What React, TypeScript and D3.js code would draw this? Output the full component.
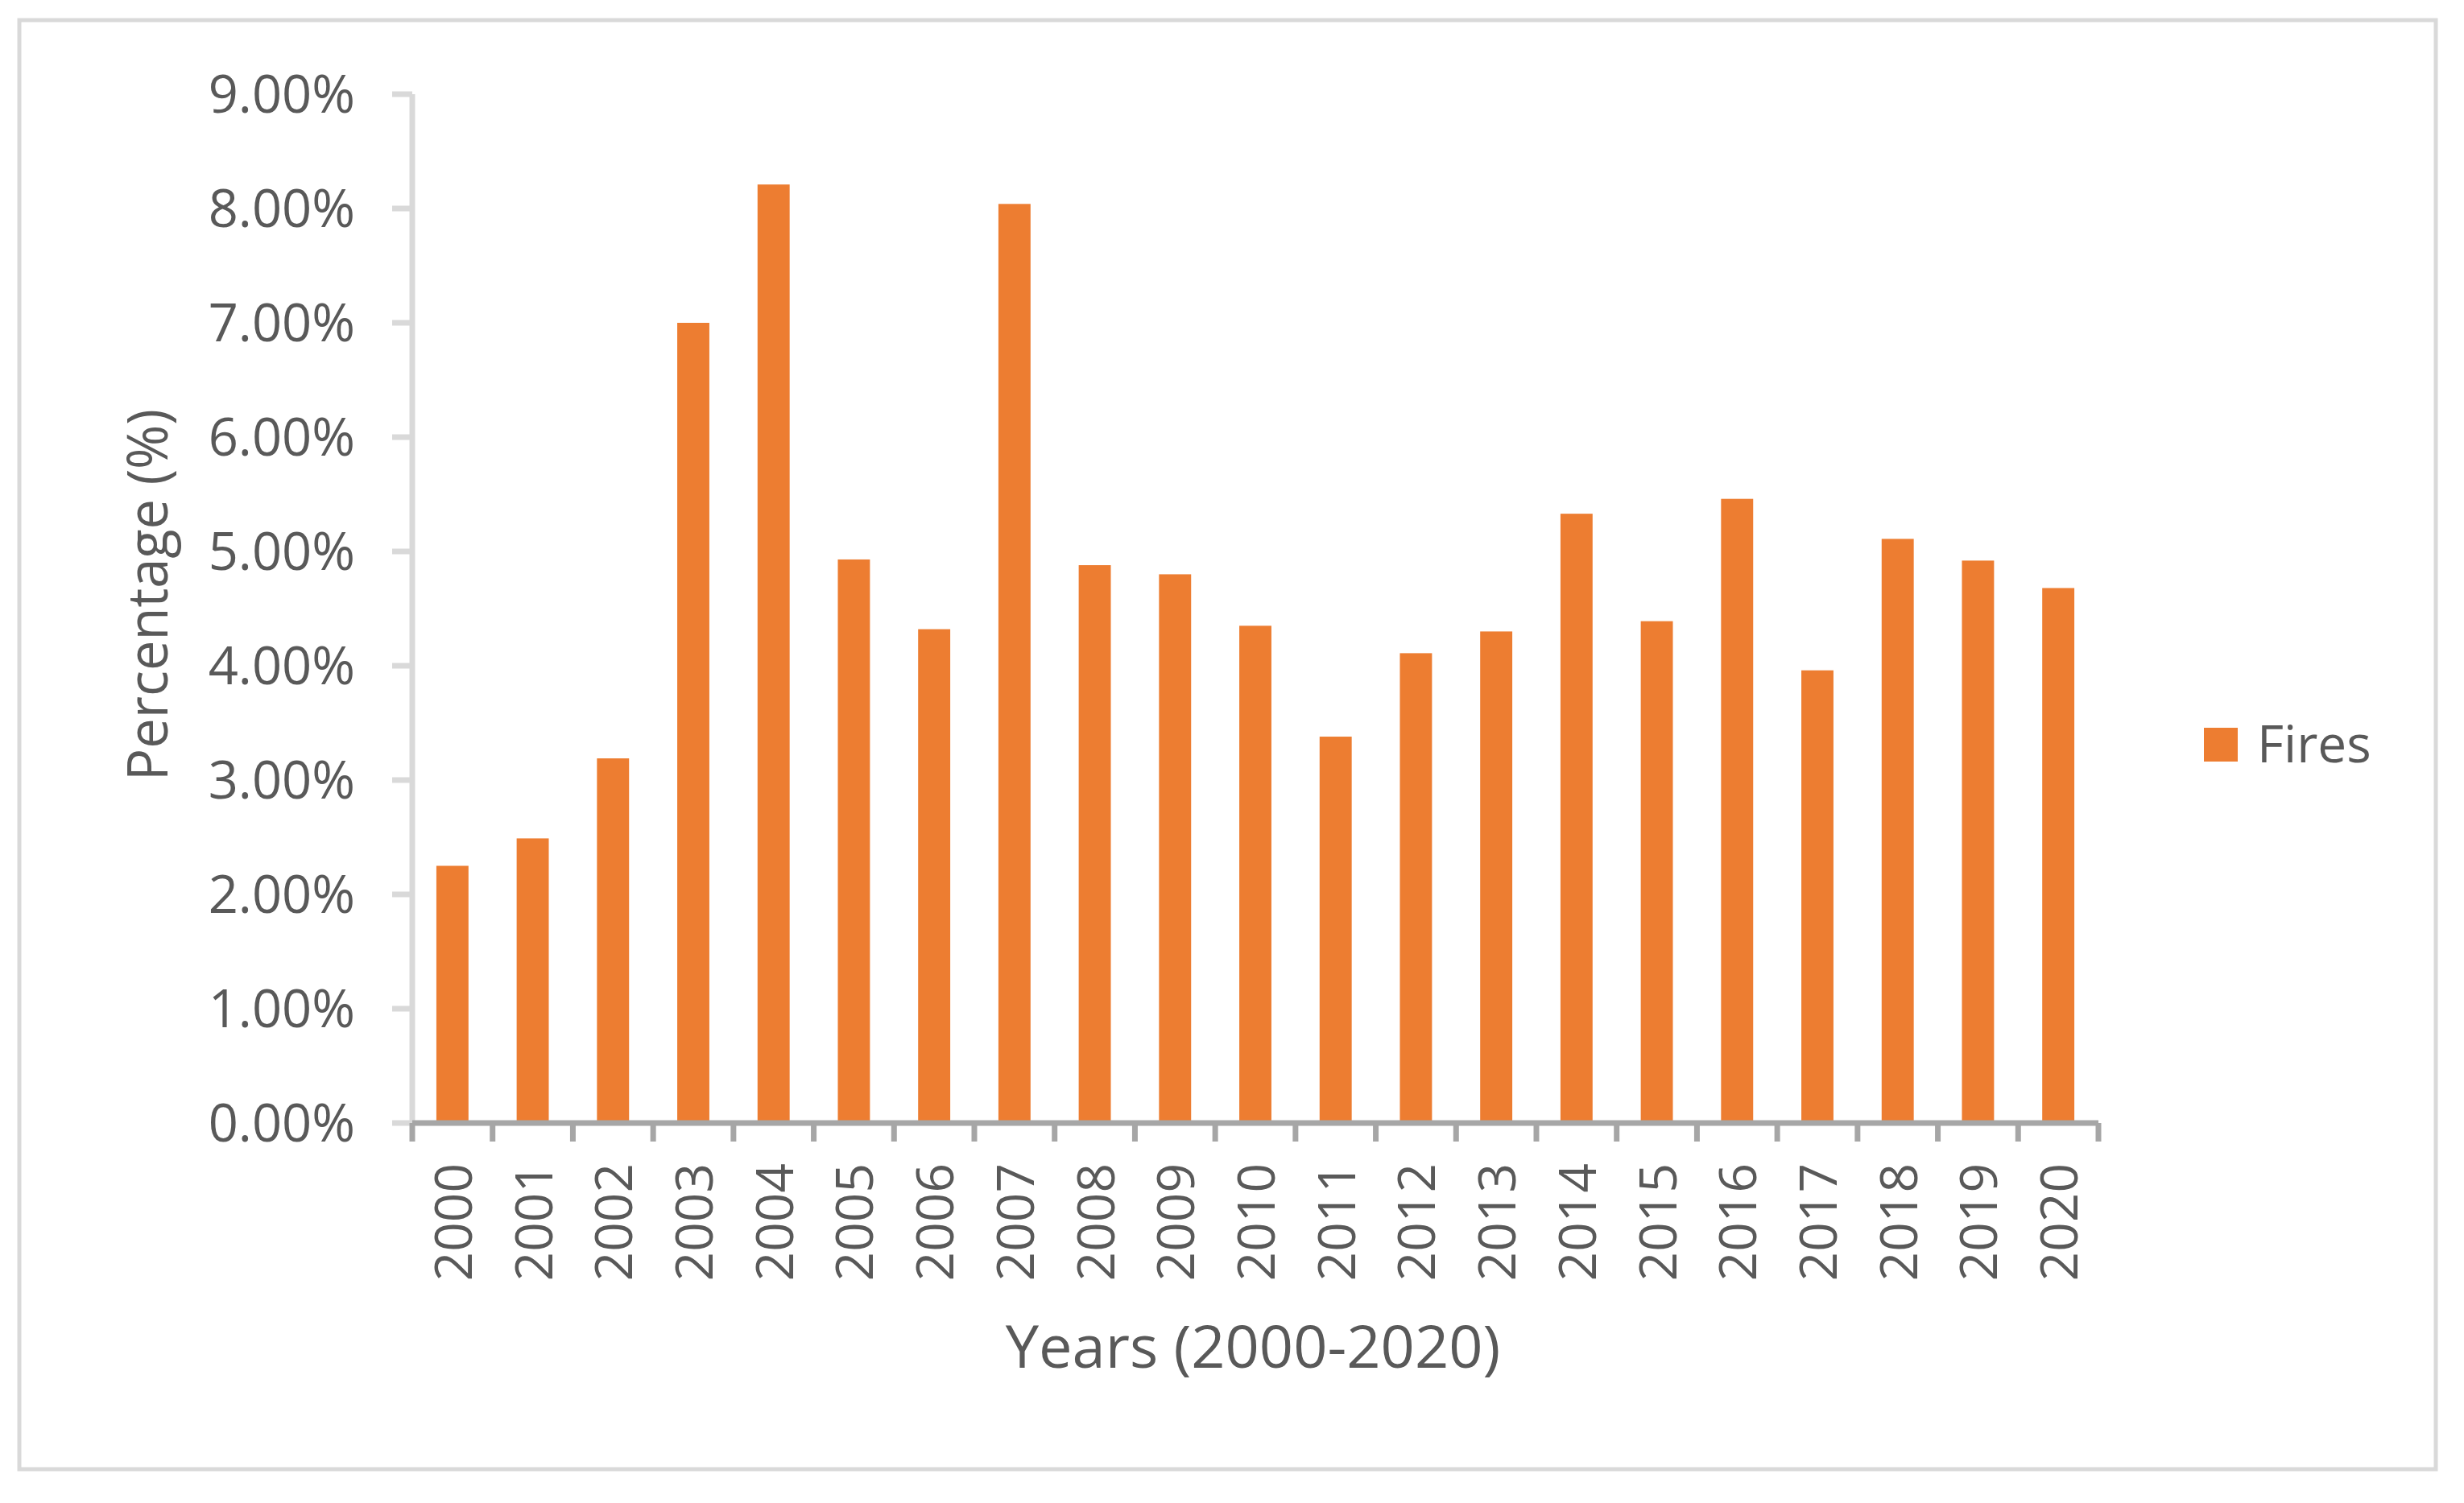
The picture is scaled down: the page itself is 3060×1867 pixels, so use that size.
import * as d3 from "d3"

const YEARS = ["2000", "2001", "2002", "2003", "2004", "2005", "2006", "2007", "2008", "2009", "2010",
  "2011", "2012", "2013", "2014", "2015", "2016", "2017", "2018", "2019", "2020"]
const FIRES = [2.25, 2.49, 3.19, 7.0, 8.21, 4.93, 4.32, 8.04, 4.88, 4.8, 4.35,
  3.38, 4.11, 4.3, 5.33, 4.39, 5.46, 3.96, 5.11, 4.92, 4.68]
const Y_TICKS = [0, 1, 2, 3, 4, 5, 6, 7, 8, 9]
const SERIES_NAME = "Fires"
const X_TITLE = "Years (2000-2020)"
const Y_TITLE = "Percentage (%)"

const W = 3060
const H = 1867
const FONT = "'Open Sans', 'Noto Sans', sans-serif"
const TEXT = "#595959"
const BAR = "#ED7D31"

export default function App() {
  const left = 512
  const right = 2606
  const top = 117
  const bottom = 1395

  const x = d3.scaleBand<string>().domain(YEARS).range([left, right]).paddingInner(0.6).paddingOuter(0.3)
  const step = x.step()
  const y = d3.scaleLinear().domain([0, 9]).range([bottom, top])
  const fmt = (v: number) => v.toFixed(2) + "%"

  return (
    <svg width={W} height={H} style={{ position: "absolute", left: 0, top: 0, background: "#fff" }}
      fontFamily={FONT}>
      <rect x={24} y={25} width={3001} height={1800} fill="#fff" stroke="#d9d9d9" strokeWidth={5} />

      {/* y axis */}
      <line x1={left} x2={left} y1={y(9)} y2={bottom} stroke="#d9d9d9" strokeWidth={7} />
      {Y_TICKS.map((t) => (
        <g key={t}>
          <line x1={left - 25} x2={left} y1={y(t)} y2={y(t)} stroke="#d9d9d9" strokeWidth={7} />
          <text x={441} y={y(t)} dy="0.35em" textAnchor="end" fontSize={65} fill={TEXT}>{fmt(t)}</text>
        </g>
      ))}

      {/* bars */}
      {FIRES.map((v, i) => (
        <rect key={YEARS[i]} x={x(YEARS[i])!} y={y(v)} width={x.bandwidth()} height={bottom - y(v)} fill={BAR} />
      ))}

      {/* x axis */}
      <line x1={left} x2={right} y1={bottom} y2={bottom} stroke="#a6a6a6" strokeWidth={7} />
      {d3.range(YEARS.length + 1).map((i) => (
        <line key={i} x1={left + i * step} x2={left + i * step} y1={bottom} y2={1418}
          stroke="#a6a6a6" strokeWidth={7} />
      ))}
      {YEARS.map((yr) => {
        const cx = x(yr)! + x.bandwidth() / 2
        return (
          <text key={yr} transform={`translate(${cx + 24},1445) rotate(-90)`} textAnchor="end"
            fontSize={64} fill={TEXT}>{yr}</text>
        )
      })}

      {/* titles */}
      <text x={1556} y={1699} textAnchor="middle" fontSize={74} fill={TEXT}>{X_TITLE}</text>
      <text transform={`translate(208,739) rotate(-90)`} textAnchor="middle" fontSize={70} fill={TEXT}
        textLength={462} lengthAdjust="spacingAndGlyphs">{Y_TITLE}</text>

      {/* legend */}
      <rect x={2737} y={904} width={42} height={42} fill={BAR} />
      <text x={2803} y={947} fontSize={64} fill={TEXT}>{SERIES_NAME}</text>
    </svg>
  )
}
